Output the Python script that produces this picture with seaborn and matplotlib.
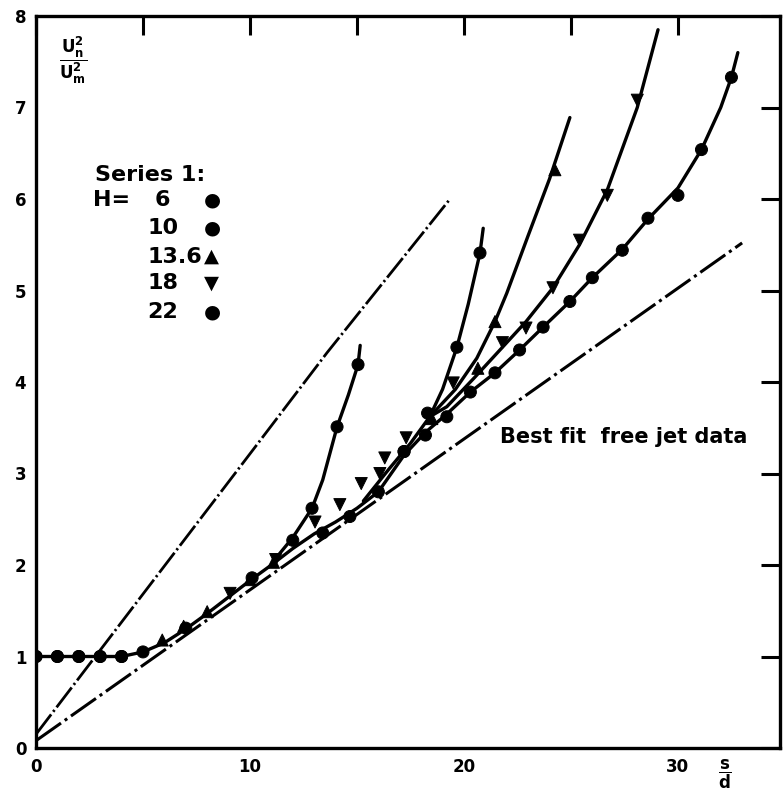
import numpy as np
import pandas as pd
import matplotlib
matplotlib.use('Agg')
import matplotlib.pyplot as plt
import seaborn as sns


####
#   Values  (x = s/d, y = Un^2/Um^2)
####

# measured points, one pair of lists per nozzle height H
h6_x = [0.0, 1.0, 2.0, 3.0, 4.0, 5.0, 12.9, 14.07, 15.05]
h6_y = [1.0, 1.0, 1.0, 1.0, 1.0, 1.05, 2.62, 3.51, 4.19]

h10_x = [0.0, 1.0, 2.0, 3.0, 4.0, 7.0, 10.1, 12.0, 17.2, 18.3, 19.67, 20.75]
h10_y = [1.0, 1.0, 1.0, 1.0, 1.0, 1.31, 1.86, 2.27, 3.24, 3.66, 4.38, 5.41]

h136_x = [5.9, 6.9, 8.0, 10.0, 11.1, 18.5, 20.65, 21.45, 24.25]
h136_y = [1.18, 1.33, 1.49, 1.84, 2.03, 3.6, 4.15, 4.66, 6.32]

h18_x = [9.07, 11.2, 13.04, 14.2, 15.2, 16.07, 16.3, 17.3, 19.5, 21.8, 22.9, 24.16, 25.4, 26.7, 28.1]
h18_y = [1.69, 2.06, 2.47, 2.66, 2.89, 3.0, 3.17, 3.39, 3.99, 4.43, 4.59, 5.03, 5.55, 6.04, 7.08]

h22_x = [13.4, 14.67, 16.0, 17.2, 18.2, 19.2, 20.3, 21.45, 22.6, 23.7, 24.95, 26.0, 27.4, 28.6, 30.0, 31.1, 32.5]
h22_y = [2.35, 2.53, 2.80, 3.24, 3.42, 3.62, 3.89, 4.10, 4.35, 4.60, 4.88, 5.14, 5.44, 5.79, 6.04, 6.54, 7.33]

# hand drawn fair curves through the points
base_x = [0.0, 4.0, 5.0, 6.0, 7.0, 8.0, 9.0, 10.0, 11.0, 12.0, 13.0, 14.0, 15.0, 16.0]
base_y = [1.0, 1.0, 1.05, 1.15, 1.3, 1.47, 1.65, 1.83, 2.0, 2.18, 2.34, 2.47, 2.62, 2.8]

c6_x = [11.3, 12.0, 12.9, 13.4, 14.07, 14.6, 15.05, 15.15]
c6_y = [2.1, 2.3, 2.62, 2.93, 3.51, 3.86, 4.19, 4.4]

trunk_x = [15.3, 16.5, 17.5, 18.4]
trunk_y = [2.7, 3.05, 3.33, 3.62]

c10_x = [18.4, 19.0, 19.67, 20.2, 20.75, 20.9]
c10_y = [3.62, 3.92, 4.38, 4.85, 5.41, 5.68]

c136_x = [18.4, 19.6, 20.6, 21.45, 22.0, 23.0, 24.0, 24.95]
c136_y = [3.62, 3.92, 4.26, 4.66, 4.97, 5.6, 6.22, 6.89]

c18_x = [18.4, 19.2, 20.5, 21.8, 22.9, 24.16, 25.4, 26.7, 28.1, 29.07]
c18_y = [3.62, 3.73, 4.05, 4.38, 4.66, 5.03, 5.5, 6.1, 7.0, 7.85]

c22_x = [16.0, 17.2, 18.2, 19.2, 20.3, 21.45, 22.6, 23.7, 24.95, 26.0, 27.4, 28.6, 30.0, 31.1, 32.0, 32.5, 32.8]
c22_y = [2.8, 3.2, 3.45, 3.65, 3.89, 4.1, 4.35, 4.6, 4.88, 5.14, 5.45, 5.78, 6.12, 6.54, 7.0, 7.33, 7.6]

# chain dotted reference lines
free_x = [0.0, 33.0]
free_y = [0.08, 5.52]
steep_x = [0.0, 9.07, 13.6, 19.35]
steep_y = [0.15, 2.93, 4.32, 6.0]

legend_H = ['6', '10', '13.6', '18', '22']
legend_sym = ['\u25cf', '\u25cf', '\u25b2', '\u25bc', '\u25cf']


####
#   Build frames for seaborn
####
pts = pd.concat([
    pd.DataFrame({'x': h6_x, 'y': h6_y, 'H': '6'}),
    pd.DataFrame({'x': h10_x, 'y': h10_y, 'H': '10'}),
    pd.DataFrame({'x': h136_x, 'y': h136_y, 'H': '13.6'}),
    pd.DataFrame({'x': h18_x, 'y': h18_y, 'H': '18'}),
    pd.DataFrame({'x': h22_x, 'y': h22_y, 'H': '22'}),
], ignore_index=True)

curves = pd.concat([
    pd.DataFrame({'x': base_x, 'y': base_y, 'c': 'base'}),
    pd.DataFrame({'x': c6_x, 'y': c6_y, 'c': '6'}),
    pd.DataFrame({'x': trunk_x, 'y': trunk_y, 'c': 'trunk'}),
    pd.DataFrame({'x': c10_x, 'y': c10_y, 'c': '10'}),
    pd.DataFrame({'x': c136_x, 'y': c136_y, 'c': '13.6'}),
    pd.DataFrame({'x': c18_x, 'y': c18_y, 'c': '18'}),
    pd.DataFrame({'x': c22_x, 'y': c22_y, 'c': '22'}),
], ignore_index=True)


####
#   Plot
####
sns.set_style('white')
plt.rcParams['font.family'] = ['DejaVu Sans']
plt.rcParams['font.weight'] = 'bold'
plt.rcParams['text.color'] = 'black'

fig = plt.figure(figsize=(7.83, 7.91), dpi=100)
ax = fig.add_axes([36 / 783, 1 - 748 / 791, 744 / 783, 732 / 791])

sns.lineplot(x=free_x, y=free_y, ax=ax, color='black', lw=2.2,
             linestyle=(0, (10, 1.5, 1, 1.5)), legend=False)
sns.lineplot(x=steep_x, y=steep_y, ax=ax, color='black', lw=2.0,
             linestyle=(0, (9, 1.2, 0.8, 1.2)), legend=False, sort=False)

sns.lineplot(data=curves, x='x', y='y', units='c', estimator=None, sort=False,
             color='black', lw=2.4, ax=ax, legend=False)

sns.scatterplot(data=pts, x='x', y='y', style='H',
                markers={'6': 'o', '10': 'o', '13.6': '^', '18': 'v', '22': 'o'},
                color='black', edgecolor='black', s=75, ax=ax, legend=False, zorder=5)

ax.set_xlim(0, 34.77)
ax.set_ylim(0, 8)
ax.set_xlabel('')
ax.set_ylabel('')

ax.set_xticks([0, 5, 10, 15, 20, 25, 30])
ax.set_xticklabels(['0', '', '10', '', '20', '', '30'])
ax.set_yticks(range(0, 9))
ax.set_yticklabels([str(i) for i in range(0, 9)])
ax.tick_params(direction='in', length=14, width=2.2, top=True, right=True,
               labelsize=12, pad=7, colors='black')
for lab in ax.get_xticklabels() + ax.get_yticklabels():
    lab.set_fontweight('bold')
for sp in ax.spines.values():
    sp.set_linewidth(2.4)
    sp.set_color('black')

# axis titles as written on the figure
ax.text(1.73, 7.52, r'$\mathbf{\dfrac{U_n^2}{U_m^2}}$', fontsize=12,
        ha='center', va='center')
ax.text(32.2, -0.29, r'$\mathbf{\dfrac{s}{d}}$', fontsize=12,
        ha='center', va='center', clip_on=False)

# key
ax.text(2.76, 6.26, 'Series 1:', fontsize=16, ha='left', va='center')
ax.text(2.66, 5.99, 'H=', fontsize=16, ha='left', va='center')
row_y = [5.99, 5.68, 5.37, 5.08, 4.77]
for h, sym, yy in zip(legend_H, legend_sym, row_y):
    ax.text(5.19 if h != '6' else 5.56, yy, h, fontsize=16, ha='left', va='center')
    ax.text(8.22, yy, sym, fontsize=14, ha='center', va='center')

ax.text(21.68, 3.40, 'Best fit  free jet data', fontsize=15, ha='left', va='center')

fig.savefig('out.png', dpi=100)
